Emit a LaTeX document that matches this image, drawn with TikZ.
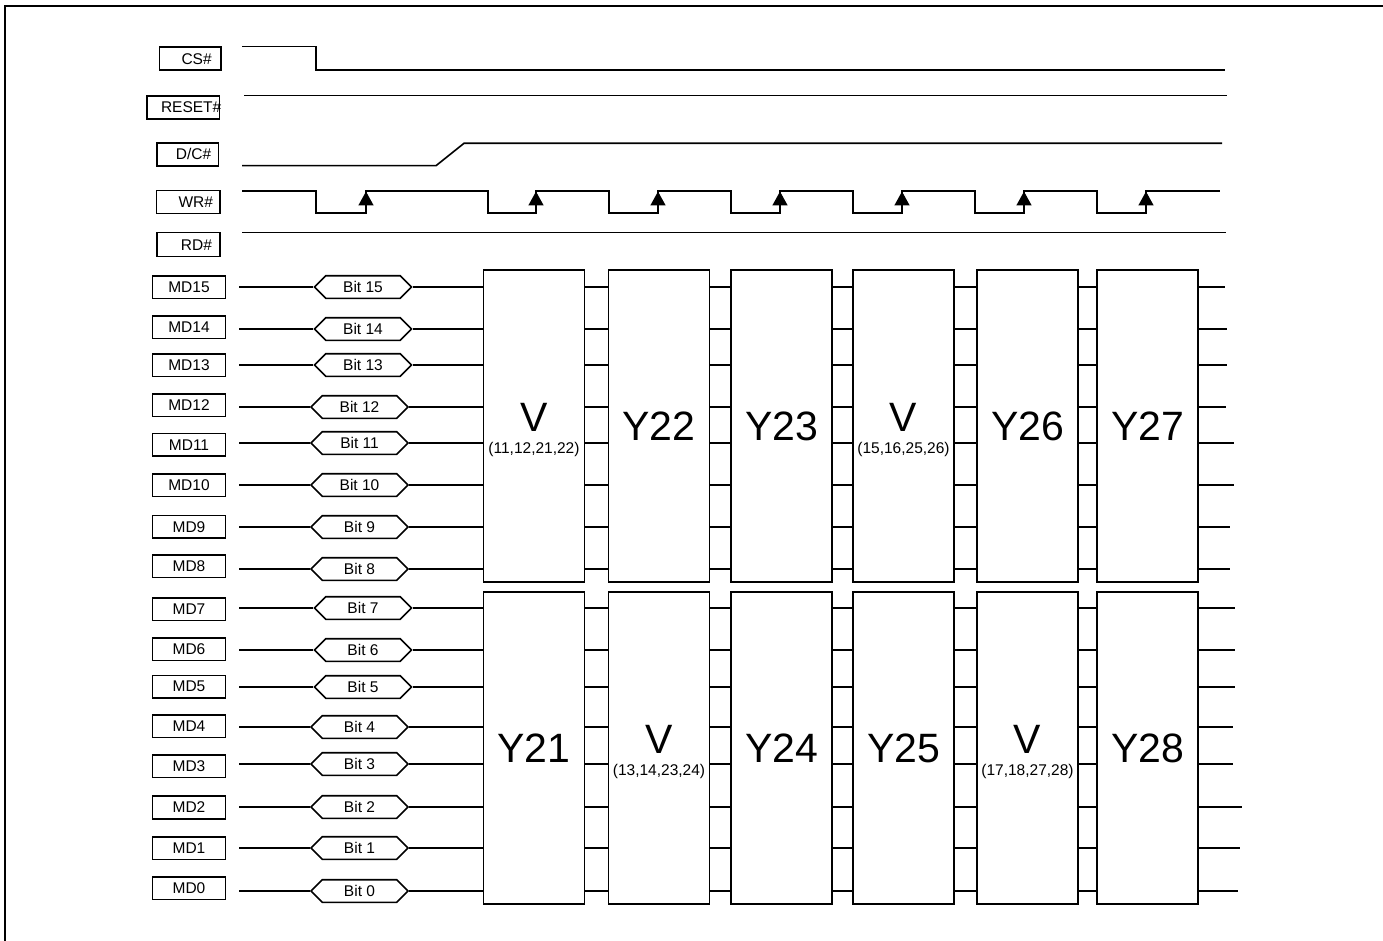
\documentclass[tikz,border=0pt]{standalone}
\usepackage{fontspec}
\setmainfont{Liberation Sans}
\usepackage{tikz}
\usetikzlibrary{arrows.meta,positioning,shapes.symbols,calc}
\newcommand{\smallfont}{\fontsize{15.5}{18}\selectfont}
\newcommand{\bigfont}{\fontsize{41}{46}\selectfont}

\begin{document}
\begin{tikzpicture}[x=1pt,y=-1pt,line width=1.6pt,
  sigbox/.style={draw,minimum height=23,inner sep=0},
  sigtxt/.style={font=\smallfont,inner sep=0,anchor=east},
  mdbox/.style={draw,minimum width=73,minimum height=22.6,inner sep=0,font=\smallfont},
  bitbox/.style={draw,signal,signal to=west and east,signal pointer angle=90,minimum width=97,minimum height=22.6,inner sep=0,font=\smallfont},
  cell/.style={draw,minimum width=101,minimum height=312,inner sep=0,font=\bigfont},
  wave/.style={line join=miter}]
\useasboundingbox (0,0) rectangle (1383,941);
\draw (5,941) -- (5,6) -- (1383,6);

% control signals
\node[sigbox,minimum width=61.4] (cs) at (190,58.7) {};
\node[sigtxt] at ([xshift=-9]cs.east) {CS\#};
\node[sigbox,minimum width=72.6] (rst) at (183,107.3) {};
\node[sigtxt] at ([xshift=2]rst.east) {RESET\#};
\node[sigbox,minimum width=61.6] (dc) at (187.5,154.3) {};
\node[sigtxt] at ([xshift=-7]dc.east) {D/C\#};
\node[sigbox,minimum width=63.3] (wr) at (188.3,202) {};
\node[sigtxt] at ([xshift=-7]wr.east) {WR\#};
\node[sigbox,minimum width=63,minimum height=24] (rd) at (188.5,244.7) {};
\node[sigtxt] at ([xshift=-8]rd.east) {RD\#};

\draw[wave] (242,46.7) -- (316,46.7) -- (316,70) -- (1225,70);
\draw[wave] (244,95.7) -- (1227,95.7);
\draw[wave] (242,165.7) -- (436,165.7) -- (464,143.3) -- (1222,143.3);
\draw[wave] (242,191) \foreach \f/\r in {316/366,488/536,609/658,731/780,853/902,975/1024,1097/1146}
  { -- (\f,191) -- (\f,213) -- (\r,213) -- (\r,191) } -- (1220,191);
\foreach \r in {366,536,658,780,902,1024,1146}
  \draw[-{Triangle[width=15pt,length=14pt]}] (\r,213) -- (\r,191.5);
\draw[wave] (242,232.7) -- (1226,232.7);

% pixel cells
\node[cell] (va) at (534,426) {};
\node[font=\bigfont,anchor=base] at ([yshift=-5]va.center) {V};
\node[font=\smallfont,anchor=base] at ([yshift=-27]va.center) {(11,12,21,22)};
\node[cell] (y22) at (659,426) {Y22};
\node[cell] (y23) at (781.5,426) {Y23};
\node[cell] (vb) at (903.5,426) {};
\node[font=\bigfont,anchor=base] at ([yshift=-5]vb.center) {V};
\node[font=\smallfont,anchor=base] at ([yshift=-27]vb.center) {(15,16,25,26)};
\node[cell] (y26) at (1027.5,426) {Y26};
\node[cell] (y27) at (1147.5,426) {Y27};

\node[cell] (y21) at (534,748) {Y21};
\node[cell] (vc) at (659,748) {};
\node[font=\bigfont,anchor=base] at ([yshift=-5]vc.center) {V};
\node[font=\smallfont,anchor=base] at ([yshift=-27]vc.center) {(13,14,23,24)};
\node[cell] (y24) at (781.5,748) {Y24};
\node[cell] (y25) at (903.5,748) {Y25};
\node[cell] (vd) at (1027.5,748) {};
\node[font=\bigfont,anchor=base] at ([yshift=-5]vd.center) {V};
\node[font=\smallfont,anchor=base] at ([yshift=-27]vd.center) {(17,18,27,28)};
\node[cell] (y28) at (1147.5,748) {Y28};

% data bus
\foreach \i/\by/\ry/\hx in {15/287/287/363,14/327/329/363,13/365/365/363,12/405/407/359.5,
  11/444.7/443/359.5,10/485.3/485/359.5,9/526.7/527/359.5,8/566.3/569/359.5,
  7/609/608/363,6/649/650/363,5/686.7/687/363,4/726.3/727/359.5,
  3/766.3/764/359.5,2/807.5/807/359.5,1/848/848/359.5,0/888/891/359.5}{
  \node[mdbox] (md\i) at (189,\by) {MD\i};
  \node[bitbox] (b\i) at (\hx,\ry) {Bit \i};
  \coordinate (s\i) at (239,\ry);
  \draw (s\i) -- (b\i.west);
}
\foreach \i/\len in {15/26,14/28,13/28,12/27,11/35,10/35,9/31,8/31}{
  \draw (b\i.east) -- (va.west |- b\i);
  \foreach \a/\b in {va/y22,y22/y23,y23/vb,vb/y26,y26/y27}
    \draw (\a.east |- b\i) -- (\b.west |- b\i);
  \path (y27.east |- b\i) ++(\len,0) coordinate (e\i);
  \draw (y27.east |- b\i) -- (e\i);
}
\foreach \i/\len in {7/36,6/36,5/36,4/34,3/34,2/43,1/41,0/39}{
  \draw (b\i.east) -- (y21.west |- b\i);
  \foreach \a/\b in {y21/vc,vc/y24,y24/y25,y25/vd,vd/y28}
    \draw (\a.east |- b\i) -- (\b.west |- b\i);
  \path (y28.east |- b\i) ++(\len,0) coordinate (e\i);
  \draw (y28.east |- b\i) -- (e\i);
}
\end{tikzpicture}
\end{document}
